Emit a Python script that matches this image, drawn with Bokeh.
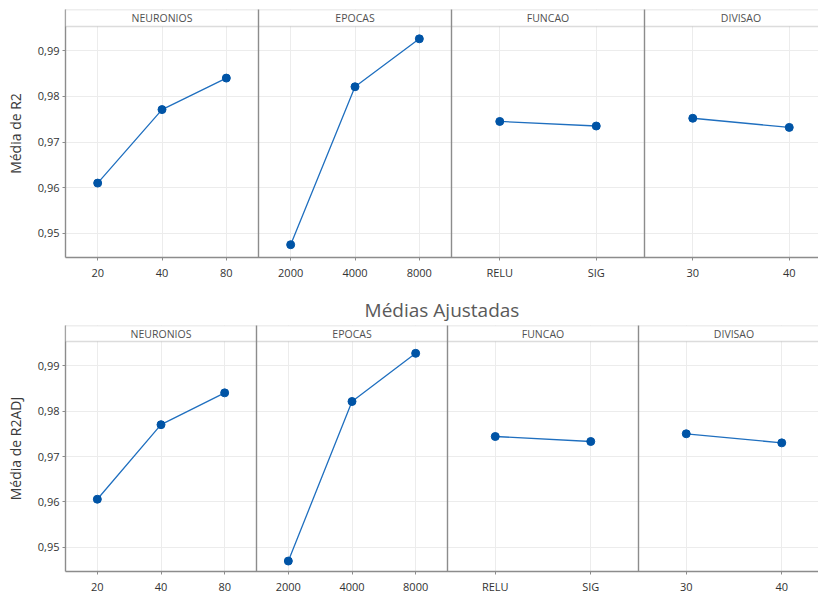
from bokeh.plotting import figure
from bokeh.layouts import column
from bokeh.models import Range1d, FixedTicker, Grid, BoxAnnotation, Spacer
from bokeh.embed import file_html
from bokeh.resources import INLINE
from bokeh.core.properties import value

# ---------------- data ----------------
TITLE = "Médias Ajustadas"
Y_LABEL_TOP = "Média de R2"
Y_LABEL_BOTTOM = "Média de R2ADJ"

FACTORS = ["NEURONIOS", "EPOCAS", "FUNCAO", "DIVISAO"]
NEURONIOS_LEVELS = ["20", "40", "80"]
EPOCAS_LEVELS = ["2000", "4000", "8000"]
FUNCAO_LEVELS = ["RELU", "SIG"]
DIVISAO_LEVELS = ["30", "40"]

R2_NEURONIOS = [0.9610, 0.9771, 0.9840]
R2_EPOCAS = [0.9475, 0.9821, 0.9926]
R2_FUNCAO = [0.9745, 0.9735]
R2_DIVISAO = [0.9752, 0.9732]

R2ADJ_NEURONIOS = [0.9606, 0.9770, 0.9840]
R2ADJ_EPOCAS = [0.9470, 0.9821, 0.9927]
R2ADJ_FUNCAO = [0.9744, 0.9733]
R2ADJ_DIVISAO = [0.9750, 0.9730]

Y_TICKS = [0.95, 0.96, 0.97, 0.98, 0.99]
Y_TICK_LABELS = ["0,95", "0,96", "0,97", "0,98", "0,99"]
Y_MIN, Y_MAX = 0.9447, 0.9953

# ---------------- style ----------------
FONT = "Open Sans"
LINE_COLOR = "#1f6fbf"
MARKER_COLOR = "#0054a6"
FRAME_COLOR = "#8c8c8c"
GRID_COLOR = "#ececec"
TEXT_COLOR = "#333333"
TOTAL_W = 818
PANEL_UNITS = 6


def make_chart(series, ylabel, left, panel_w, plot_h, strip_h, top_pad, title=None):
    frame_w = TOTAL_W - left
    x_end = PANEL_UNITS * frame_w / panel_w
    y_strip = Y_MAX
    y_top = Y_MAX + (Y_MAX - Y_MIN) * strip_h / plot_h
    p = figure(frame_width=frame_w, frame_height=plot_h + strip_h,
               x_range=Range1d(0, x_end), y_range=Range1d(Y_MIN, y_top),
               output_backend="svg", toolbar_location=None, title=title,
               min_border=0, min_border_left=left, min_border_top=top_pad)
    p.outline_line_color = None

    tick_pos, tick_lab = [], []
    for i, (fname, levels, vals) in enumerate(series):
        n = len(levels)
        xs = [PANEL_UNITS * i + PANEL_UNITS * (j + 0.5) / n for j in range(n)]
        tick_pos += xs
        tick_lab += levels
        p.line(xs, vals, line_color=LINE_COLOR, line_width=1.3)
        p.scatter(xs, vals, size=8, fill_color=MARKER_COLOR, line_color=MARKER_COLOR)

    # light grids
    p.xgrid.ticker = FixedTicker(ticks=tick_pos)
    p.ygrid.ticker = FixedTicker(ticks=Y_TICKS)
    p.xgrid.grid_line_color = GRID_COLOR
    p.ygrid.grid_line_color = GRID_COLOR

    # strip (header band) covering the grid above the plot area
    strip = BoxAnnotation(bottom=y_strip, right=x_end * 1.05, fill_color="white",
                          fill_alpha=1.0, line_color=FRAME_COLOR, line_width=1.4)
    p.add_layout(strip)

    # panel separators
    seps = [PANEL_UNITS * i for i in range(1, len(series))]
    p.add_layout(Grid(dimension=0, ticker=FixedTicker(ticks=seps),
                      grid_line_color=FRAME_COLOR, grid_line_width=1.4, level="overlay"))

    # strip labels
    p.text(x=[PANEL_UNITS * i + PANEL_UNITS / 2 for i in range(len(series))],
           y=[(y_strip + y_top) / 2] * len(series),
           text=[s[0] for s in series], text_align="center", text_baseline="middle",
           text_font=value(FONT), text_font_size="10.5px", text_color="#505050",
           level="overlay")

    # x axis
    p.xaxis.ticker = FixedTicker(ticks=tick_pos)
    p.xaxis.major_label_overrides = {x: lab for x, lab in zip(tick_pos, tick_lab)}
    p.xaxis.axis_line_color = FRAME_COLOR
    p.xaxis.axis_line_width = 1.4
    p.xaxis.major_tick_in = 0
    p.xaxis.major_tick_out = 3
    p.xaxis.major_tick_line_color = FRAME_COLOR
    p.xaxis.minor_tick_line_color = None
    p.xaxis.major_label_standoff = 4
    p.xaxis.major_label_text_font = FONT
    p.xaxis.major_label_text_font_size = "11px"
    p.xaxis.major_label_text_color = TEXT_COLOR

    # y axis
    p.yaxis.ticker = FixedTicker(ticks=Y_TICKS)
    p.yaxis.major_label_overrides = {t: s for t, s in zip(Y_TICKS, Y_TICK_LABELS)}
    p.yaxis.axis_label = ylabel
    p.yaxis.axis_label_text_font = FONT
    p.yaxis.axis_label_text_font_size = "14px"
    p.yaxis.axis_label_text_font_style = "normal"
    p.yaxis.axis_label_text_color = "#3a3a3a"
    p.yaxis.axis_label_standoff = 10
    p.yaxis.axis_line_color = FRAME_COLOR
    p.yaxis.axis_line_width = 1.4
    p.yaxis.major_tick_in = 0
    p.yaxis.major_tick_out = 3
    p.yaxis.major_tick_line_color = FRAME_COLOR
    p.yaxis.minor_tick_line_color = None
    p.yaxis.major_label_standoff = 3
    p.yaxis.major_label_text_font = FONT
    p.yaxis.major_label_text_font_size = "11px"
    p.yaxis.major_label_text_color = TEXT_COLOR

    if title is not None:
        p.title.align = "center"
        p.title.standoff = 5
        p.title.text_font = FONT
        p.title.text_font_size = "19px"
        p.title.text_font_style = "normal"
        p.title.text_color = "#5a5a5a"
    return p


top_series = [
    (FACTORS[0], NEURONIOS_LEVELS, R2_NEURONIOS),
    (FACTORS[1], EPOCAS_LEVELS, R2_EPOCAS),
    (FACTORS[2], FUNCAO_LEVELS, R2_FUNCAO),
    (FACTORS[3], DIVISAO_LEVELS, R2_DIVISAO),
]
bottom_series = [
    (FACTORS[0], NEURONIOS_LEVELS, R2ADJ_NEURONIOS),
    (FACTORS[1], EPOCAS_LEVELS, R2ADJ_EPOCAS),
    (FACTORS[2], FUNCAO_LEVELS, R2ADJ_FUNCAO),
    (FACTORS[3], DIVISAO_LEVELS, R2ADJ_DIVISAO),
]

top = make_chart(top_series, Y_LABEL_TOP, 63, 193, 231, 17, 9)
bottom = make_chart(bottom_series, Y_LABEL_BOTTOM, 65, 191, 230, 16, 0, title=TITLE)

layout = column(top, Spacer(width=TOTAL_W, height=10), bottom)

open("out.html", "w").write(file_html(layout, INLINE))
